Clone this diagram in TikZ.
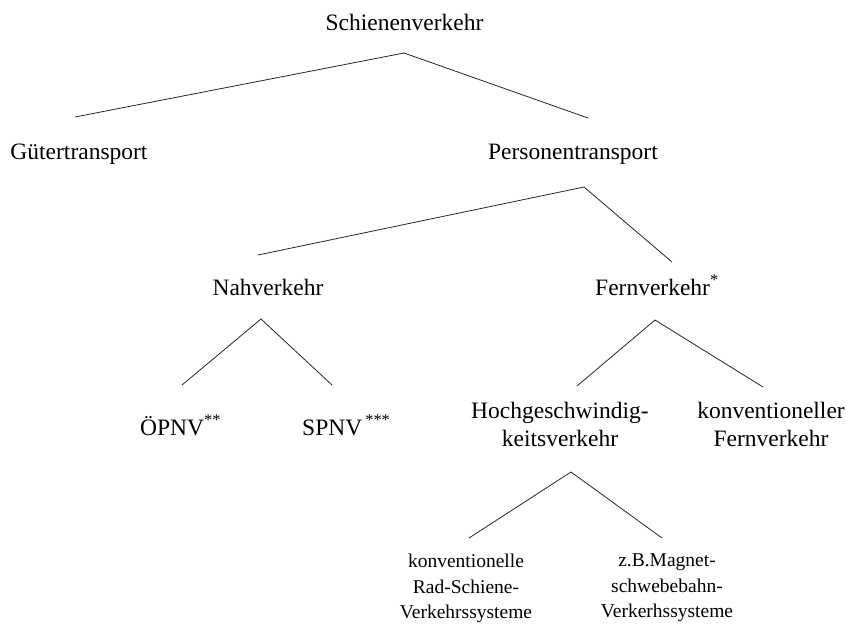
\documentclass[tikz,border=0pt]{standalone}
\usepackage{fontspec}
\setmainfont{Liberation Serif}
\begin{document}
\begin{tikzpicture}[x=1pt,y=-1pt,
  lbl/.style={inner sep=0pt, font=\fontsize{23.5}{28}\selectfont},
  lblm/.style={inner sep=0pt, align=center, font=\fontsize{23.5}{28}\selectfont},
  sml/.style={inner sep=0pt, align=center, font=\fontsize{19.5}{25.5}\selectfont},
  conn/.style={line width=0.8pt, black!85}]
\useasboundingbox (0,0) rectangle (846,625);
% labels
\node[lbl, anchor=base] (sv) at (404.5,30) {Schienenverkehr};
\node[lbl, anchor=base] (gt) at (79,159) {Gütertransport};
\node[lbl, anchor=base] (pt) at (573,159) {Personentransport};
\node[lbl, anchor=base] (nv) at (268,295) {Nahverkehr};
\node[lbl, anchor=base west] (fv) at (595,295) {Fernverkehr\textsuperscript{*}};
\node[lbl, anchor=base west] (oe) at (140,435) {ÖPNV\textsuperscript{**}};
\node[lbl, anchor=base west] (sp) at (302,435) {SPNV\hspace{3pt}\textsuperscript{***}};
\node[lblm, anchor=north] (hg) at (560,402) {Hochgeschwindig-\\keitsverkehr};
\node[lblm, anchor=north] (kf) at (771,402) {konventioneller\\Fernverkehr};
\node[sml, anchor=north] (rs) at (466,554) {konventionelle\\Rad-Schiene-\\Verkehrssysteme};
\node[sml, anchor=north] (mb) at (667,554) {z.B.Magnet-\\schwebebahn-\\Verkerhssysteme};
% branch points
\coordinate (a1) at (404,53);
\coordinate (l1) at (75,117);
\coordinate (r1) at (588,118);
\coordinate (a2) at (584,187);
\coordinate (l2) at (258,255);
\coordinate (r2) at (672,262);
\coordinate (a3) at (261,319);
\coordinate (l3) at (182,385);
\coordinate (r3) at (332,385);
\coordinate (a4) at (655,320);
\coordinate (l4) at (577,386);
\coordinate (r4) at (763,387);
\coordinate (a5) at (571,472);
\coordinate (l5) at (469,538);
\coordinate (r5) at (662,538);
% connectors
\draw[conn] (l1) -- (a1) -- (r1);
\draw[conn] (l2) -- (a2) -- (r2);
\draw[conn] (l3) -- (a3) -- (r3);
\draw[conn] (l4) -- (a4) -- (r4);
\draw[conn] (l5) -- (a5) -- (r5);
\end{tikzpicture}
\end{document}
